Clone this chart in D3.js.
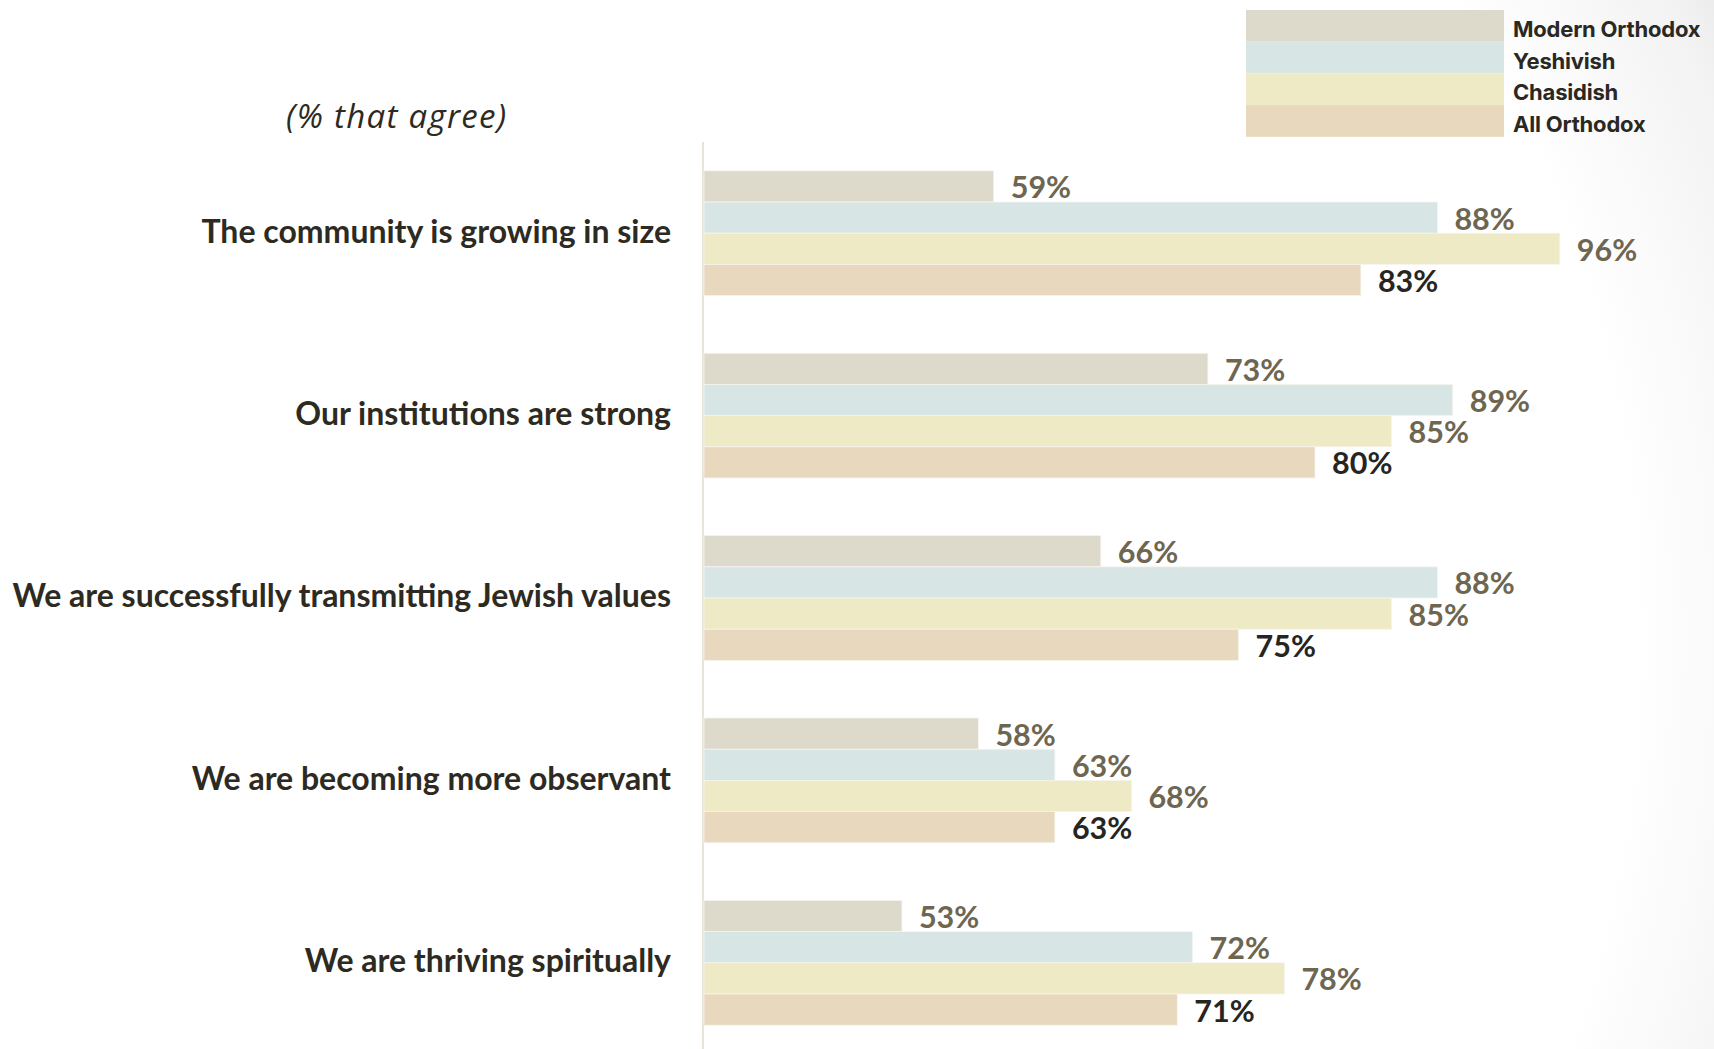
<!DOCTYPE html>
<html>
<head>
<meta charset="utf-8">
<script src="https://cdn.jsdelivr.net/npm/d3@7"></script>
<style>
  html, body { margin: 0; padding: 0; background: #fff; }
  svg { display: block; }
</style>
</head>
<body>
<svg id="chart" width="1714" height="1049"></svg>
<script>
// Survey statements (rows of the chart)
const categories = [
  "The community is growing in size",
  "Our institutions are strong",
  "We are successfully transmitting Jewish values",
  "We are becoming more observant",
  "We are thriving spiritually"
];

// Series names, in drawing order within each row
const seriesNames = ["Modern Orthodox", "Yeshivish", "Chasidish", "All Orthodox"];

// Percent that agree, per series
const modernOrthodox = [59, 73, 66, 58, 53];
const yeshivish      = [88, 89, 88, 63, 72];
const chasidish      = [96, 85, 85, 68, 78];
const allOrthodox    = [83, 80, 75, 63, 71];

const seriesValues = [modernOrthodox, yeshivish, chasidish, allOrthodox];
const seriesColors = ["#dddacb", "#d8e5e5", "#eeeac6", "#e8d8bd"];
const labelColors  = ["#6e6650", "#6e6650", "#6e6650", "#27251f"];

const svg = d3.select("#chart");
const W = 1714, H = 1049;

// Soft grey vignette toward the right edge
const defs = svg.append("defs");
const grad = defs.append("radialGradient")
  .attr("id", "bg")
  .attr("gradientUnits", "userSpaceOnUse")
  .attr("cx", 420).attr("cy", 640).attr("r", 1520);
grad.append("stop").attr("offset", 0.80).attr("stop-color", "#ffffff");
grad.append("stop").attr("offset", 0.92).attr("stop-color", "#f3f3f3");
grad.append("stop").attr("offset", 1).attr("stop-color", "#e2e2e2");
svg.append("rect").attr("width", W).attr("height", H).attr("fill", "url(#bg)");

// Scales: the value axis starts at 40%
const x = d3.scaleLinear().domain([40, 100]).range([703, 1621]);
const y = d3.scaleBand()
  .domain(categories)
  .range([142, 1054])
  .paddingInner(0.316)
  .paddingOuter(0.158);
const ySub = d3.scaleBand()
  .domain(seriesNames)
  .range([0, y.bandwidth()]);

// Baseline axis line
svg.append("line")
  .attr("x1", x(40)).attr("x2", x(40))
  .attr("y1", 142).attr("y2", H)
  .attr("stroke", "#e8e4d9").attr("stroke-width", 2);

// Rows of bars
const rows = svg.selectAll("g.row")
  .data(categories)
  .join("g")
  .attr("class", "row")
  .attr("transform", d => `translate(0,${y(d)})`);

seriesNames.forEach((name, si) => {
  rows.append("rect")
    .attr("x", x(40) + 1)
    .attr("y", () => ySub(name))
    .attr("width", (d, i) => x(seriesValues[si][i]) - x(40) - 1)
    .attr("height", ySub.bandwidth())
    .attr("fill", seriesColors[si])
    .attr("stroke", "#f6f4ee")
    .attr("stroke-width", 0.8);

  rows.append("text")
    .attr("x", (d, i) => x(seriesValues[si][i]) + 17)
    .attr("y", ySub(name) + ySub.bandwidth() / 2)
    .attr("dominant-baseline", "central")
    .attr("font-family", "Lato, 'Open Sans', sans-serif")
    .attr("font-weight", 700)
    .attr("font-size", 30.5)
    .attr("fill", labelColors[si])
    .text((d, i) => seriesValues[si][i] + "%");
});

// Category labels
rows.append("text")
  .attr("x", 671)
  .attr("y", y.bandwidth() / 2 - 3)
  .attr("text-anchor", "end")
  .attr("dominant-baseline", "central")
  .attr("font-family", "Lato, 'Open Sans', sans-serif")
  .attr("font-weight", 700)
  .attr("font-size", 32)
  .attr("fill", "#2d2a22")
  .text(d => d);

// Subtitle
svg.append("text")
  .attr("x", 286).attr("y", 115)
  .attr("dominant-baseline", "central")
  .attr("font-family", "'Open Sans', Lato, sans-serif")
  .attr("font-style", "italic")
  .attr("font-size", 33)
  .attr("letter-spacing", 1.3)
  .attr("fill", "#2d2a22")
  .text("(% that agree)");

// Legend
const legend = svg.append("g").attr("transform", "translate(1246,10)");
const legRow = 31.7;
seriesNames.forEach((name, i) => {
  legend.append("rect")
    .attr("x", 0).attr("y", i * legRow)
    .attr("width", 258).attr("height", legRow)
    .attr("fill", seriesColors[i]);
  legend.append("text")
    .attr("x", 267).attr("y", i * legRow + legRow / 2 + 3)
    .attr("dominant-baseline", "central")
    .attr("font-family", "Inter, Roboto, sans-serif")
    .attr("font-weight", 700)
    .attr("font-size", 22)
    .attr("letter-spacing", -0.2)
    .attr("fill", "#2a2822")
    .text(name);
});
</script>
</body>
</html>
